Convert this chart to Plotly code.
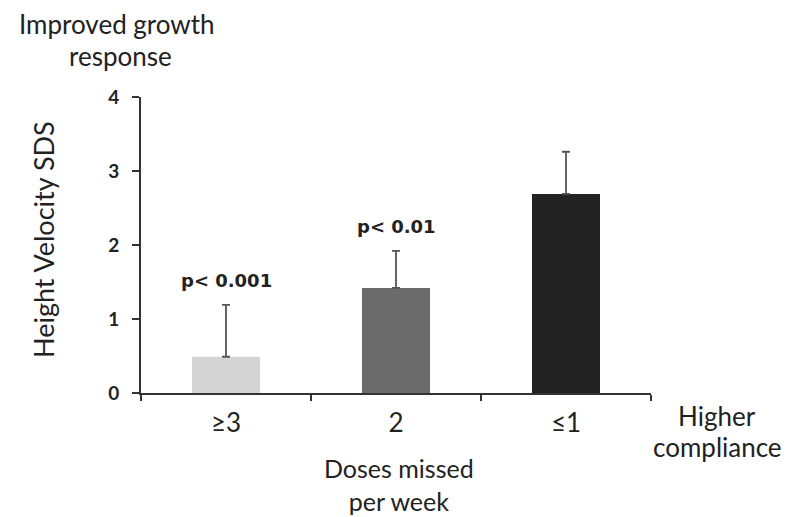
import plotly.graph_objects as go

categories = ["≥3", "2", "≤1"]
hv_sds = [0.49, 1.42, 2.69]
err_plus = [0.70, 0.50, 0.57]
bar_colors = ["#d4d4d4", "#6b6b6b", "#222222"]
p_labels = ["p< 0.001", "p< 0.01", ""]
y_ticks = [0, 1, 2, 3, 4]

FONT = "Lato"
PFONT = "DejaVu Sans"
TXT = "#222222"

# plot area in page pixels (page has an 8px body margin)
L, T, W, H = 133, 89, 510, 296

fig = go.Figure()
fig.add_trace(go.Bar(
    x=list(range(len(categories))), y=hv_sds, width=0.4,
    marker=dict(color=bar_colors, line=dict(width=0)),
    error_y=dict(type="data", array=err_plus, arrayminus=[0, 0, 0], symmetric=False,
                 color="#555555", thickness=1.8, width=4),
    showlegend=False,
))

for i, (v, e, t) in enumerate(zip(hv_sds, err_plus, p_labels)):
    if t:
        fig.add_annotation(x=i, y=v + e, text=f"<b>{t}</b>", showarrow=False,
                           xref="x", yref="y",
                           yanchor="bottom", yshift=12,
                           font=dict(family=PFONT, size=18, color=TXT))


def px_x(X):
    return (X - 141) / W


def px_y(Y):
    return (393 - Y) / H


def label(text, X, Y, size=26, angle=0):
    fig.add_annotation(xref="paper", yref="paper", x=px_x(X), y=px_y(Y),
                       text=text, showarrow=False, textangle=angle,
                       xanchor="center", yanchor="middle",
                       font=dict(family=FONT, size=size, color=TXT))


label("Improved growth", 117, 24)
label("response", 120, 56)
label("Higher", 717, 416)
label("compliance", 717, 447)
label("Doses missed<br>per week", 399, 484, size=25)
label("Height Velocity SDS", 43, 240, size=27, angle=-90)

fig.update_layout(
    width=782, height=509,
    margin=dict(l=L, r=782 - L - W, t=T, b=509 - T - H, autoexpand=False),
    plot_bgcolor="white", paper_bgcolor="white",
    font=dict(family=FONT, color=TXT),
    xaxis=dict(
        range=[-0.5, 2.5], tickmode="array",
        tickvals=list(range(len(categories))), ticktext=categories,
        showline=True, linecolor="#333333", linewidth=2,
        ticks="", showgrid=False, zeroline=False,
        ticklabelstandoff=6,
        tickfont=dict(family=FONT, size=26, color=TXT),
        minor=dict(tickvals=[-0.5, 0.5, 1.5, 2.5], ticks="outside", ticklen=6,
                   tickwidth=2, tickcolor="#333333", showgrid=False),
    ),
    yaxis=dict(
        range=[0, 4], tickvals=y_ticks,
        showline=True, linecolor="#333333", linewidth=2,
        ticks="outside", ticklen=7, tickwidth=2, tickcolor="#333333",
        ticklabelstandoff=9,
        tickfont=dict(family=FONT, size=19, color=TXT, weight="bold"),
        showgrid=False, zeroline=False,
    ),
)

fig.write_html("out.html")
